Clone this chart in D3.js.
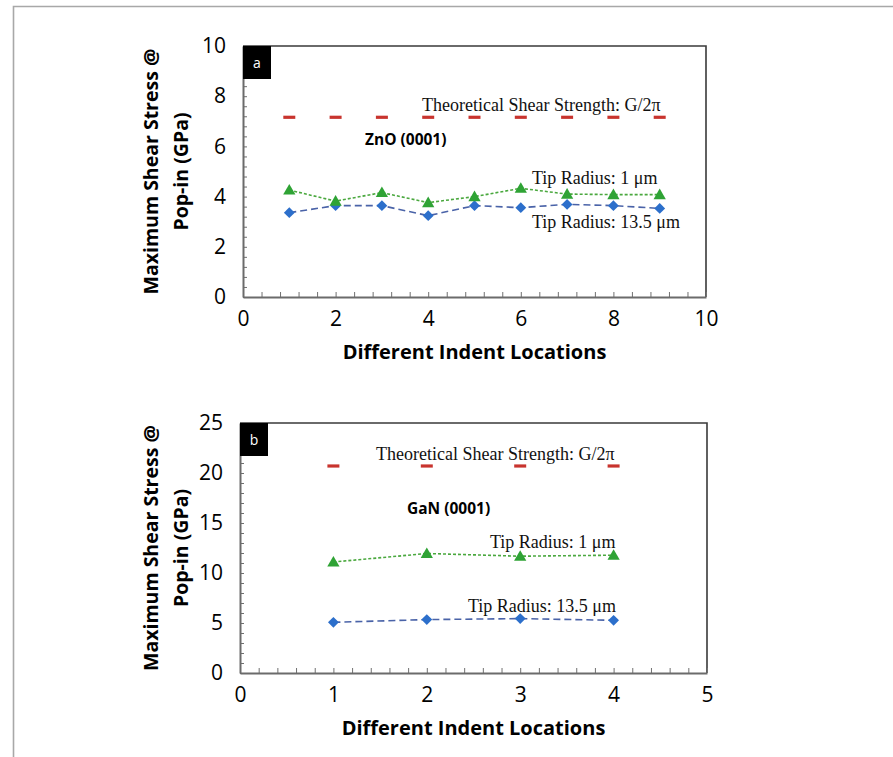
<!DOCTYPE html>
<html>
<head>
<meta charset="utf-8">
<script src="https://cdn.jsdelivr.net/npm/d3@7"></script>
<style>
  body { margin: 0; background: #fff; }
  svg { display: block; }
</style>
</head>
<body>
<div id="chart"></div>
<script>
// panel a - ZnO (0001)
var locA = [1, 2, 3, 4, 5, 6, 7, 8, 9];
var tip1A = [4.26, 3.82, 4.16, 3.76, 4.0, 4.33, 4.1, 4.08, 4.08];
var tip135A = [3.36, 3.64, 3.64, 3.24, 3.64, 3.56, 3.69, 3.64, 3.53];
var theoA = [7.16, 7.16, 7.16, 7.16, 7.16, 7.16, 7.16, 7.16, 7.16];

// panel b - GaN (0001)
var locB = [1, 2, 3, 4];
var tip1B = [11.1, 11.95, 11.68, 11.78];
var tip135B = [5.07, 5.34, 5.44, 5.27];
var theoB = [20.7, 20.7, 20.7, 20.7];

var W = 893, H = 757;

var svg = d3.select("#chart").append("svg")
    .attr("width", W)
    .attr("height", H);

// page frame
svg.append("path")
    .attr("d", "M13.5," + H + "V6.5H" + W)
    .attr("fill", "none")
    .attr("stroke", "#a8a8a8")
    .attr("stroke-width", 1.6);

var tickFont = "'Open Sans', sans-serif";
var serif = "'Liberation Serif', 'Times New Roman', serif";

function drawPanel(p) {
    var x = d3.scaleLinear().domain([0, p.xMax]).range([p.left, p.right]);
    var y = d3.scaleLinear().domain([0, p.yMax]).range([p.bottom, p.top]);

    var g = svg.append("g");

    // top + right border
    g.append("path")
        .attr("d", "M" + p.left + "," + p.top + "H" + p.right + "V" + p.bottom)
        .attr("fill", "none")
        .attr("stroke", "#3a3a3a")
        .attr("stroke-width", 1.6);

    // minor ticks (inside)
    var xMinor = d3.range(0, p.xMax + 1e-9, p.xStep / 5);
    var yMinor = d3.range(0, p.yMax + 1e-9, p.yStep / 5);

    g.append("g")
        .attr("transform", "translate(0," + p.bottom + ")")
        .call(d3.axisTop(x).tickValues(xMinor).tickSize(5).tickFormat(""))
        .call(function (a) { a.select(".domain").remove(); })
        .selectAll("line").attr("stroke", "#707070");

    g.append("g")
        .attr("transform", "translate(" + p.left + ",0)")
        .call(d3.axisRight(y).tickValues(yMinor).tickSize(4).tickFormat(""))
        .call(function (a) { a.select(".domain").remove(); })
        .selectAll("line").attr("stroke", "#707070");

    // x axis
    var xa = g.append("g")
        .attr("transform", "translate(0," + p.bottom + ")")
        .call(d3.axisBottom(x).tickValues(d3.range(0, p.xMax + 1e-9, p.xStep))
            .tickFormat(d3.format("d"))
            .tickSize(0).tickPadding(14).tickSizeOuter(0));
    xa.select(".domain").attr("stroke", "#6b6b6b").attr("stroke-width", 2);
    xa.selectAll("text")
        .attr("font-family", tickFont)
        .attr("font-size", 21)
        .attr("fill", "#000");

    // y axis
    var ya = g.append("g")
        .attr("transform", "translate(" + p.left + ",0)")
        .call(d3.axisLeft(y).tickValues(d3.range(0, p.yMax + 1e-9, p.yStep))
            .tickFormat(d3.format("d"))
            .tickSize(0).tickPadding(17).tickSizeOuter(0));
    ya.select(".domain").attr("stroke", "#6b6b6b").attr("stroke-width", 2);
    ya.selectAll("text")
        .attr("font-family", tickFont)
        .attr("font-size", 21)
        .attr("fill", "#000");

    // axis titles
    g.append("text")
        .attr("x", (p.left + p.right) / 2)
        .attr("y", p.bottom + 62)
        .attr("text-anchor", "middle")
        .attr("font-family", tickFont)
        .attr("font-weight", "bold")
        .attr("font-size", 20)
        .attr("fill", "#000")
        .text("Different Indent Locations");

    var cy = (p.top + p.bottom) / 2;
    var yt = g.append("text")
        .attr("transform", "translate(158," + cy + ") rotate(-90)")
        .attr("text-anchor", "middle")
        .attr("font-family", tickFont)
        .attr("font-weight", "bold")
        .attr("font-size", 19.5)
        .attr("fill", "#000");
    yt.append("tspan").attr("x", 0).attr("y", 0).text("Maximum Shear Stress @");
    yt.append("tspan").attr("x", 0).attr("y", 30).text("Pop-in (GPa)");

    // label box
    g.append("rect")
        .attr("x", p.left)
        .attr("y", p.top)
        .attr("width", 28)
        .attr("height", 33)
        .attr("fill", "#000");
    g.append("text")
        .attr("x", p.left + 14)
        .attr("y", p.top + 22)
        .attr("text-anchor", "middle")
        .attr("font-family", tickFont)
        .attr("font-size", 14)
        .attr("fill", "#fff")
        .text(p.tag);

    // theoretical shear strength dashes
    g.selectAll(".theo")
        .data(p.loc.map(function (d, i) { return [d, p.theo[i]]; }))
        .enter().append("line")
        .attr("class", "theo")
        .attr("x1", function (d) { return x(d[0]) - 6; })
        .attr("x2", function (d) { return x(d[0]) + 6; })
        .attr("y1", function (d) { return y(d[1]); })
        .attr("y2", function (d) { return y(d[1]); })
        .attr("stroke", "#c8342e")
        .attr("stroke-width", 3.2);

    var line = d3.line()
        .x(function (d) { return x(d[0]); })
        .y(function (d) { return y(d[1]); });

    var blue = p.loc.map(function (d, i) { return [d, p.tip135[i]]; });
    var green = p.loc.map(function (d, i) { return [d, p.tip1[i]]; });

    g.append("path")
        .datum(blue)
        .attr("d", line)
        .attr("fill", "none")
        .attr("stroke", "#4a63a8")
        .attr("stroke-width", 1.6)
        .attr("stroke-dasharray", "7,4");

    g.append("path")
        .datum(green)
        .attr("d", line)
        .attr("fill", "none")
        .attr("stroke", "#4aa83e")
        .attr("stroke-width", 1.6)
        .attr("stroke-dasharray", "3,2");

    g.selectAll(".dia")
        .data(blue)
        .enter().append("path")
        .attr("class", "dia")
        .attr("transform", function (d) { return "translate(" + x(d[0]) + "," + y(d[1]) + ")"; })
        .attr("d", d3.symbol().type(d3.symbolDiamond2).size(75))
        .attr("fill", "#2c6fcb");

    g.selectAll(".tri")
        .data(green)
        .enter().append("path")
        .attr("class", "tri")
        .attr("transform", function (d) { return "translate(" + x(d[0]) + "," + (y(d[1]) + 1) + ")"; })
        .attr("d", d3.symbol().type(d3.symbolTriangle).size(65))
        .attr("fill", "#2fa335");

    // annotations
    g.append("text")
        .attr("x", p.theoX).attr("y", p.theoY)
        .attr("font-family", serif).attr("font-size", 18).attr("fill", "#111")
        .text("Theoretical Shear Strength: G/2\u03c0");
    g.append("text")
        .attr("x", p.matX).attr("y", p.matY)
        .attr("font-family", tickFont).attr("font-weight", "bold")
        .attr("font-size", 15.5).attr("fill", "#000")
        .text(p.material);
    g.append("text")
        .attr("x", p.t1X).attr("y", p.t1Y)
        .attr("font-family", serif).attr("font-size", 18).attr("fill", "#111")
        .text("Tip Radius: 1 \u03bcm");
    g.append("text")
        .attr("x", p.t2X).attr("y", p.t2Y)
        .attr("font-family", serif).attr("font-size", 18).attr("fill", "#111")
        .text("Tip Radius: 13.5 \u03bcm");
}

drawPanel({
    tag: "a", material: "ZnO (0001)",
    left: 243, right: 706, top: 46, bottom: 297,
    xMax: 10, xStep: 2, yMax: 10, yStep: 2,
    loc: locA, tip1: tip1A, tip135: tip135A, theo: theoA,
    theoX: 422, theoY: 111, matX: 365, matY: 145,
    t1X: 532, t1Y: 184, t2X: 532, t2Y: 228
});

drawPanel({
    tag: "b", material: "GaN (0001)",
    left: 240, right: 707, top: 423, bottom: 673,
    xMax: 5, xStep: 1, yMax: 25, yStep: 5,
    loc: locB, tip1: tip1B, tip135: tip135B, theo: theoB,
    theoX: 376, theoY: 460, matX: 407, matY: 514,
    t1X: 490, t1Y: 548, t2X: 468, t2Y: 612
});
</script>
</body>
</html>
